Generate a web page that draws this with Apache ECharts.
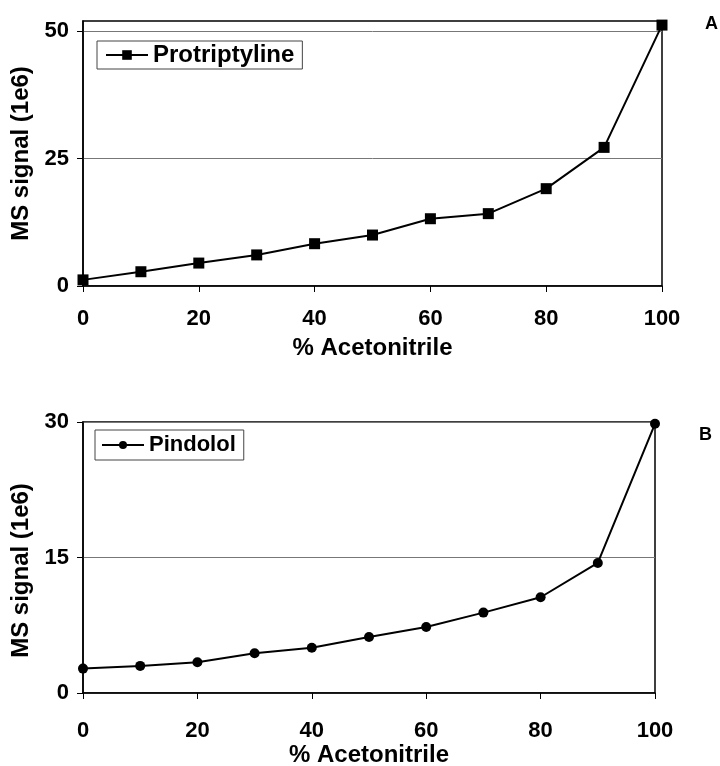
<!DOCTYPE html>
<html><head><meta charset="utf-8">
<script src="https://cdn.jsdelivr.net/npm/echarts@6/dist/echarts.min.js"></script>
<style>html,body{margin:0;padding:0;background:#fff}#c{width:720px;height:766px}</style>
</head><body><div id="c"></div>
<script>
const acetonitrile = [0, 10, 20, 30, 40, 50, 60, 70, 80, 90, 100];
const protriptyline = [1.2, 2.8, 4.5, 6.1, 8.3, 10.0, 13.2, 14.2, 19.1, 27.2, 51.2];
const pindolol = [2.7, 3.0, 3.4, 4.4, 5.0, 6.2, 7.3, 8.9, 10.6, 14.4, 29.8];
const xTicks = [0, 20, 40, 60, 80, 100];
const yTicksA = [0, 25, 50];
const yTicksB = [0, 15, 30];

const F = 'Liberation Sans, Arial, sans-serif';
const pair = (xs, ys) => xs.map((x, i) => [x, ys[i]]);

function xAxis(idx, margin, gap) {
  return {
    type: 'value', gridIndex: idx, min: 0, max: 100, interval: 20,
    axisLine: { show: true, onZero: false, lineStyle: { color: '#000', width: 1.5 } },
    axisTick: { show: true, inside: false, length: 6, customValues: xTicks, lineStyle: { color: '#000', width: 1 } },
    axisLabel: { margin: margin, customValues: xTicks, color: '#000', fontFamily: F, fontWeight: 'bold', fontSize: 22 },
    splitLine: { show: false },
    name: '% Acetonitrile', nameLocation: 'middle', nameGap: gap,
    nameTextStyle: { color: '#000', fontFamily: F, fontWeight: 'bold', fontSize: 24 }
  };
}
function yAxis(idx, max, interval, ticks, pad) {
  return {
    type: 'value', gridIndex: idx, min: 0, max: max, interval: interval,
    axisLine: { show: true, lineStyle: { color: '#000', width: 1.5 } },
    axisTick: { show: true, inside: false, length: 6, customValues: ticks, lineStyle: { color: '#000', width: 1 } },
    axisLabel: { margin: 14, customValues: ticks, color: '#000', fontFamily: F, fontWeight: 'bold', fontSize: 22 },
    splitLine: { show: true, lineStyle: { color: '#777', width: 1 } },
    name: 'MS signal (1e6)', nameLocation: 'middle', nameGap: 48,
    nameTextStyle: { color: '#000', fontFamily: F, fontWeight: 'bold', fontSize: 24, padding: pad }
  };
}

const chart = echarts.init(document.getElementById('c'), null, { renderer: 'canvas' });
chart.setOption({
  animation: false,
  backgroundColor: '#fff',
  title: [
    { text: 'A', left: 700, top: 10, textStyle: { fontFamily: F, fontWeight: 'bold', fontSize: 18, color: '#000' } },
    { text: 'B', left: 694, top: 421, textStyle: { fontFamily: F, fontWeight: 'bold', fontSize: 18, color: '#000' } }
  ],
  grid: [
    { left: 83, top: 21, right: 58, height: 265, show: true, borderColor: '#000', borderWidth: 1.5, backgroundColor: 'transparent', containLabel: false, outerBoundsMode: 'none' },
    { left: 83, top: 422, right: 65, height: 271, show: true, borderColor: '#000', borderWidth: 1.5, backgroundColor: 'transparent', containLabel: false, outerBoundsMode: 'none' }
  ],
  legend: [
    { data: ['Protriptyline'], left: 97, top: 41, orient: 'horizontal', borderColor: '#444', borderWidth: 1,
      padding: [2, 8, 2, 8], itemWidth: 42, itemHeight: 12, itemGap: 4,
      textStyle: { fontFamily: F, fontWeight: 'bold', fontSize: 24, color: '#000' } },
    { data: ['Pindolol'], left: 95, top: 430, orient: 'horizontal', borderColor: '#444', borderWidth: 1,
      padding: [4, 8, 4, 6], itemWidth: 42, itemHeight: 10, itemGap: 4,
      textStyle: { fontFamily: F, fontWeight: 'bold', fontSize: 22, color: '#000' } }
  ],
  xAxis: [xAxis(0, 22, 50), xAxis(1, 27, 46)],
  yAxis: [yAxis(0, 52, 25, yTicksA, [0, 0, 0, 0]), yAxis(1, 30, 15, yTicksB, [0, 26, 0, 0])],
  series: [
    { name: 'Protriptyline', type: 'line', xAxisIndex: 0, yAxisIndex: 0, data: pair(acetonitrile, protriptyline),
      symbol: 'rect', symbolSize: 11, lineStyle: { color: '#000', width: 2 }, itemStyle: { color: '#000' } },
    { name: 'Pindolol', type: 'line', xAxisIndex: 1, yAxisIndex: 1, data: pair(acetonitrile, pindolol),
      symbol: 'circle', symbolSize: 10, lineStyle: { color: '#000', width: 2 }, itemStyle: { color: '#000' } }
  ]
});
</script></body></html>
